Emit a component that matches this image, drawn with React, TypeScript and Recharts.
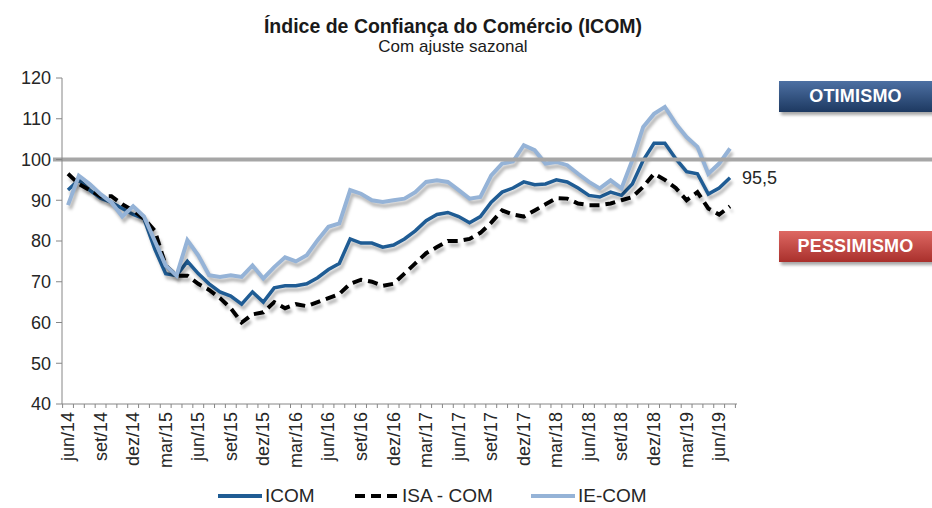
import React from "react";
import {
  LineChart,
  Line,
  XAxis,
  YAxis,
  ReferenceLine,
} from "recharts";

const months = [
  "jun/14", "jul/14", "ago/14", "set/14", "out/14", "nov/14", "dez/14",
  "jan/15", "fev/15", "mar/15", "abr/15", "mai/15", "jun/15", "jul/15", "ago/15", "set/15", "out/15", "nov/15", "dez/15",
  "jan/16", "fev/16", "mar/16", "abr/16", "mai/16", "jun/16", "jul/16", "ago/16", "set/16", "out/16", "nov/16", "dez/16",
  "jan/17", "fev/17", "mar/17", "abr/17", "mai/17", "jun/17", "jul/17", "ago/17", "set/17", "out/17", "nov/17", "dez/17",
  "jan/18", "fev/18", "mar/18", "abr/18", "mai/18", "jun/18", "jul/18", "ago/18", "set/18", "out/18", "nov/18", "dez/18",
  "jan/19", "fev/19", "mar/19", "abr/19", "mai/19", "jun/19", "jul/19",
];

const icom = [
  92.5, 95, 92.5, 90.5, 89.5, 88, 86.5,
  85.5, 78, 72, 71.5, 75, 72, 69.5, 67.5, 66.5, 64.5, 67.5, 65,
  68.5, 69, 69, 69.5, 71, 73, 74.5, 80.5, 79.5, 79.5, 78.5, 79,
  80.5, 82.5, 85, 86.5, 87, 86, 84.5, 86, 89.5, 92, 93, 94.5,
  93.8, 94, 95, 94.5, 93, 91.2, 90.8, 92, 91.2, 94, 99.8, 104,
  104, 100.2, 97, 96.5, 91.5, 93, 95.5,
];

const isaCom = [
  96.5, 94, 92.5, 91, 91, 89, 87.5,
  85.5, 82.5, 74, 71.5, 71.5, 69.5, 68, 66, 63.5, 60, 62, 62.5,
  65, 63.5, 64.5, 64, 65, 66, 67, 69.5, 70.5, 70, 69, 69.5,
  72, 74.5, 77, 78.5, 80, 80, 80.5, 82, 84.5, 87.5, 86.5, 86,
  87.5, 89, 90.5, 90.4, 89.2, 88.8, 88.8, 89.2, 90, 90.8, 93.3, 96.5,
  95, 93, 90, 92, 88, 86.5, 88.5,
];

const ieCom = [
  88.8, 96, 94, 91.5, 89.5, 86, 88.5,
  86, 80, 74, 71.5, 80.2, 76.5, 71.6, 71.2, 71.6, 71.2, 74, 70.8,
  73.6, 76, 75, 76.5, 80.2, 83.5, 84.3, 92.5, 91.6, 90, 89.6, 90,
  90.4, 92, 94.5, 94.9, 94.5, 92.5, 90.4, 90.8, 96.1, 99, 99.5, 103.5,
  102.3, 99, 99.4, 98.6, 96.5, 94.5, 92.9, 94.9, 92.9, 99.8, 108, 111.2,
  112.9, 108.8, 105.5, 103.1, 96.5, 99, 102.7,
];

const yTicks = [40, 50, 60, 70, 80, 90, 100, 110, 120];

const data = months.map((m, i) => ({
  m,
  icom: icom[i],
  isa: isaCom[i],
  ie: ieCom[i],
}));

const FONT = "'Liberation Sans', Arial, sans-serif";
const C_ICOM = "#1f5c94";
const C_IE = "#95b3d7";
const C_ISA = "#000000";

// every month gets a minor tick, every third month a label
const MonthTick = (props: any) => {
  const { x, y, payload, index } = props;
  const half = 5.4;
  const isLast = index === months.length - 1;
  return (
    <g>
      <line x1={x - half} x2={x - half} y1={y} y2={y + 4} stroke="#868686" />
      {isLast && <line x1={x + half} x2={x + half} y1={y} y2={y + 4} stroke="#868686" />}
      {index % 3 === 0 && (
        <text
          x={x}
          y={y + 8}
          transform={`rotate(-90, ${x}, ${y + 8})`}
          textAnchor="end"
          dominantBaseline="central"
          fontSize={18}
          fill="#262626"
          fontFamily={FONT}
        >
          {payload.value}
        </text>
      )}
    </g>
  );
};

const LastLabel = (props: any) => {
  const { x, y, index, value } = props;
  if (index !== icom.length - 1) return null;
  return (
    <text x={x + 12} y={y} dominantBaseline="central" fontSize={18} fill="#262626" fontFamily={FONT}>
      {String(value).replace(".", ",")}
    </text>
  );
};

const LegendItem = ({ left, color, dashed, label }: any) => (
  <div style={{ position: "absolute", left, top: 484, display: "flex", alignItems: "center", height: 24 }}>
    <svg width={46} height={10}>
      <line x1={1} x2={45} y1={5} y2={5} stroke={color} strokeWidth={4} strokeDasharray={dashed ? "10 6" : undefined} />
    </svg>
    <span style={{ fontSize: 19, color: "#262626", marginLeft: 2 }}>{label}</span>
  </div>
);

const Badge = ({ top, text, from, to }: any) => (
  <div
    style={{
      position: "absolute",
      left: 779,
      top,
      width: 158,
      height: 31,
      background: `linear-gradient(to bottom, ${from} 0%, ${to} 100%)`,
      boxShadow: "2px 3px 3px rgba(0,0,0,0.35)",
      color: "#ffffff",
      fontWeight: "bold",
      fontSize: 18,
      lineHeight: "31px",
      textAlign: "center",
      paddingRight: 5,
      boxSizing: "border-box",
      letterSpacing: 0.2,
    }}
  >
    {text}
  </div>
);

export default function App() {
  return (
    <div style={{ position: "absolute", left: 0, top: 0, width: 932, height: 508, background: "#fff", fontFamily: FONT, overflow: "hidden" }}>
      <style>{`body{margin:0}.recharts-line-curve{filter:drop-shadow(2px 4px 1.5px rgba(0,0,0,0.28));}`}</style>
      <div style={{ position: "absolute", left: 0, width: 906, top: 15, textAlign: "center", fontWeight: "bold", fontSize: 19.5, color: "#1a1a1a" }}>
        Índice de Confiança do Comércio (ICOM)
      </div>
      <div style={{ position: "absolute", left: 0, width: 906, top: 37, textAlign: "center", fontSize: 17, color: "#1a1a1a" }}>
        Com ajuste sazonal
      </div>

      <LineChart width={932} height={508} data={data} margin={{ top: 78, right: 195, bottom: 44, left: 0 }}>
        <XAxis
          dataKey="m"
          interval={0}
          tick={<MonthTick />}
          tickLine={false}
          tickSize={0}
          tickMargin={0}
          height={60}
          axisLine={{ stroke: "#868686" }}
          padding={{ left: 6, right: 7 }}
        />
        <YAxis
          domain={[40, 120]}
          ticks={yTicks}
          width={62}
          tickSize={6}
          tickMargin={5}
          axisLine={{ stroke: "#868686" }}
          tickLine={{ stroke: "#868686" }}
          tick={{ fontSize: 18, fill: "#262626", fontFamily: FONT }}
        />
        <Line type="linear" dataKey="icom" stroke={C_ICOM} strokeWidth={3.5} dot={false} isAnimationActive={false} label={<LastLabel />} />
        <Line type="linear" dataKey="isa" stroke={C_ISA} strokeWidth={4} strokeDasharray="10 6" dot={false} isAnimationActive={false} />
        <Line type="linear" dataKey="ie" stroke={C_IE} strokeWidth={4} dot={false} isAnimationActive={false} />
        <ReferenceLine
          y={100}
          shape={(p: any) => (
            <line x1={p.x1 - 9} x2={932} y1={p.y1} y2={p.y2} stroke="#a6a6a6" strokeWidth={4} />
          )}
        />
      </LineChart>

      <Badge top={81} text="OTIMISMO" from="#4d70a3" to="#1d3961" />
      <Badge top={231} text="PESSIMISMO" from="#de6863" to="#a9302c" />

      <LegendItem left={217} color={C_ICOM} label="ICOM" />
      <LegendItem left={354} color={C_ISA} dashed label="ISA - COM" />
      <LegendItem left={530} color={C_IE} label="IE-COM" />
    </div>
  );
}
